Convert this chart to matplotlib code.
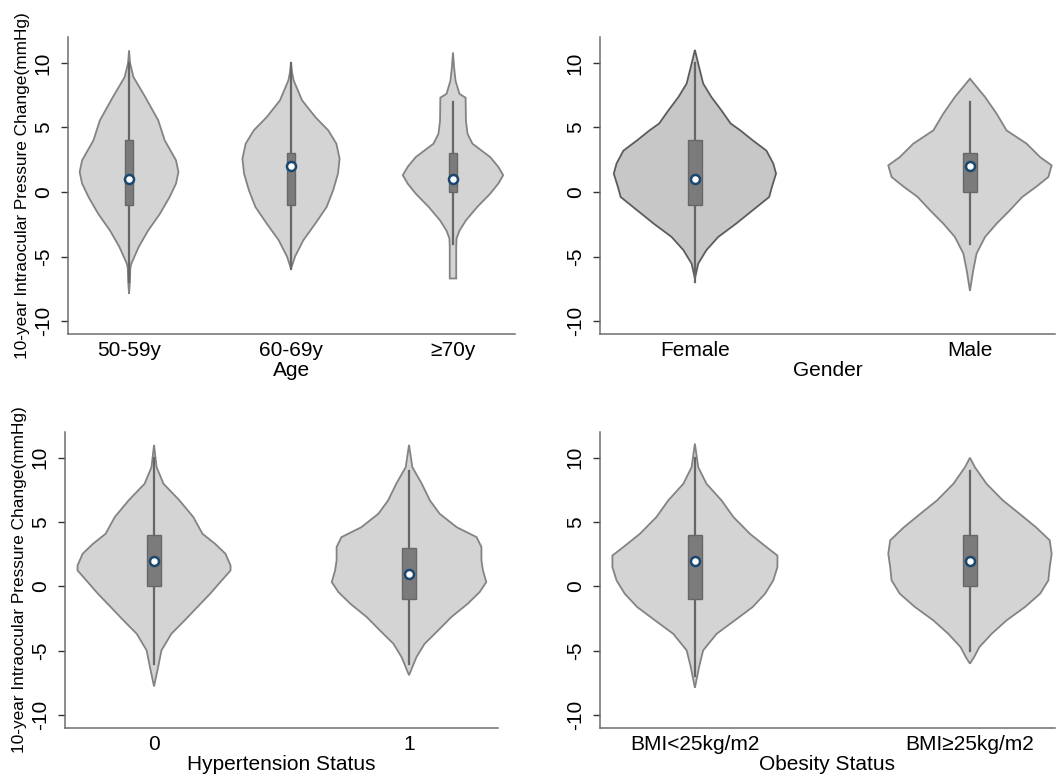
import matplotlib.pyplot as plt
from matplotlib.patches import Rectangle

plt.rcParams['font.family'] = ['Liberation Sans', 'DejaVu Sans']

# Profils des violons : niveaux y et demi-largeurs (unités de catégorie)
age_5059_y = [10.97, 10.0, 8.9, 7.35, 5.55, 4.0, 2.45, 1.55, 0.65, -0.4, -1.7, -3.0, -4.25, -5.55, -5.9, -7.0, -7.9]
age_5059_w = [0.0, 0.006, 0.027, 0.10, 0.18, 0.22, 0.29, 0.305, 0.29, 0.25, 0.19, 0.117, 0.06, 0.014, 0.008, 0.005, 0.0]
age_6069_y = [9.94, 9.3, 8.65, 7.1, 5.8, 4.77, 3.74, 2.58, 1.42, 0.13, -1.16, -2.45, -3.74, -5.0, -5.94]
age_6069_w = [0.0, 0.006, 0.016, 0.068, 0.15, 0.23, 0.28, 0.30, 0.29, 0.26, 0.22, 0.15, 0.076, 0.025, 0.0]
age_70_y = [10.8, 9.5, 8.6, 7.6, 7.3, 5.5, 4.5, 3.74, 2.7, 1.94, 1.3, 0.65, -0.13, -1.16, -2.2, -3.0, -3.6, -4.2, -6.4, -6.7]
age_70_w = [0.0, 0.008, 0.016, 0.04, 0.078, 0.08, 0.09, 0.12, 0.23, 0.28, 0.31, 0.28, 0.23, 0.15, 0.08, 0.04, 0.022, 0.02, 0.02, 0.02]

female_y = [11.0, 9.94, 8.4, 7.35, 6.3, 5.3, 4.77, 4.0, 3.2, 2.2, 1.42, 0.39, -0.39, -1.42, -2.45, -3.48, -4.5, -5.55, -6.7]
female_w = [0.0, 0.012, 0.03, 0.06, 0.097, 0.13, 0.165, 0.21, 0.26, 0.285, 0.295, 0.28, 0.27, 0.21, 0.15, 0.085, 0.042, 0.012, 0.0]
male_y = [8.77, 7.35, 6.06, 4.77, 3.74, 2.7, 2.06, 1.16, 0.39, -0.39, -1.42, -2.45, -3.48, -4.77, -6.06, -7.66]
male_w = [0.0, 0.055, 0.097, 0.133, 0.206, 0.255, 0.297, 0.285, 0.24, 0.19, 0.145, 0.097, 0.055, 0.024, 0.012, 0.0]

ht0_y = [11.0, 9.27, 7.98, 6.68, 5.39, 4.09, 3.3, 2.54, 1.63, 1.24, 0.34, -0.57, -1.6, -2.64, -3.68, -4.97, -6.27, -7.77]
ht0_w = [0.0, 0.01, 0.037, 0.10, 0.154, 0.19, 0.24, 0.28, 0.30, 0.30, 0.26, 0.22, 0.17, 0.12, 0.068, 0.029, 0.016, 0.0]
ht1_y = [11.0, 9.27, 7.98, 6.68, 5.65, 4.6, 3.83, 3.06, 2.02, 1.24, 0.34, -0.44, -1.35, -2.38, -3.42, -4.46, -5.5, -6.9]
ht1_w = [0.0, 0.013, 0.05, 0.082, 0.12, 0.187, 0.265, 0.284, 0.284, 0.29, 0.303, 0.277, 0.23, 0.166, 0.114, 0.061, 0.029, 0.0]

bmi_lo_y = [11.1, 9.27, 7.98, 6.68, 5.39, 4.09, 3.06, 2.4, 1.5, 0.47, -0.57, -1.6, -2.64, -3.68, -4.97, -6.27, -7.88]
bmi_lo_w = [0.0, 0.012, 0.042, 0.097, 0.14, 0.2, 0.26, 0.30, 0.30, 0.285, 0.255, 0.21, 0.145, 0.079, 0.03, 0.015, 0.0]
bmi_hi_y = [10.0, 9.27, 7.98, 6.68, 5.65, 4.6, 3.58, 2.54, 1.5, 0.47, -0.57, -1.6, -2.64, -3.68, -4.72, -5.5, -6.0]
bmi_hi_w = [0.0, 0.018, 0.06, 0.12, 0.18, 0.24, 0.29, 0.297, 0.29, 0.285, 0.255, 0.2, 0.133, 0.079, 0.034, 0.015, 0.0]

# Statistiques des boîtes (q1, q3, médiane, moustaches)
age_labels = ['50-59y', '60-69y', '≥70y']
age_q1 = [-1, -1, 0]
age_q3 = [4, 3, 3]
age_med = [1, 2, 1]
age_wlo = [-7, -6, -4]
age_whi = [10, 10, 7]

gender_labels = ['Female', 'Male']
gender_q1 = [-1, 0]
gender_q3 = [4, 3]
gender_med = [1, 2]
gender_wlo = [-7, -4]
gender_whi = [10, 7]

ht_labels = ['0', '1']
ht_q1 = [0, -1]
ht_q3 = [4, 3]
ht_med = [2, 1]
ht_wlo = [-6, -6]
ht_whi = [10, 9]

bmi_labels = ['BMI<25kg/m2', 'BMI≥25kg/m2']
bmi_q1 = [-1, 0]
bmi_q3 = [4, 4]
bmi_med = [2, 2]
bmi_wlo = [-7, -5]
bmi_whi = [10, 9]

ylab = '10-year Intraocular Pressure Change(mmHg)'

LIGHT = ('#d4d4d4', '#838383')
DARK = ('#c7c7c7', '#5c5c5c')


def panel(ax, profiles, labels, q1, q3, med, wlo, whi, xlabel, xlim, styles, with_ylabel):
    for i, (py, pw) in enumerate(profiles):
        pos = i + 1
        fc, ec = styles[i]
        xs = [pos + w for w in pw] + [pos - w for w in pw[::-1]]
        ys = list(py) + list(py[::-1])
        ax.fill(xs, ys, facecolor=fc, edgecolor=ec, linewidth=1.3, zorder=1)
        ax.plot([pos, pos], [wlo[i], whi[i]], color='#666666', lw=1.6, zorder=2)
        ax.add_patch(Rectangle((pos - 0.026, q1[i]), 0.052, q3[i] - q1[i],
                               facecolor='#7b7b7b', edgecolor='#676767', lw=1.0, zorder=3))
        ax.plot(pos, med[i], 'o', ms=6.5, mfc='white', mec='#1a476f', mew=1.8, zorder=4)

    ax.set_xlim(*xlim)
    ax.set_ylim(-11, 12)
    ax.set_xticks(range(1, len(labels) + 1))
    ax.set_xticklabels(labels, fontsize=15)
    ax.set_yticks([-10, -5, 0, 5, 10])
    ax.set_yticklabels(['-10', '-5', '0', '5', '10'], fontsize=15, rotation=90, va='center')
    ax.tick_params(axis='x', length=0, pad=5)
    ax.tick_params(axis='y', length=5, width=1, color='#333333', pad=6)
    ax.set_xlabel(xlabel, fontsize=15, labelpad=0.5)
    if with_ylabel:
        ax.set_ylabel(ylab, fontsize=12.4, labelpad=3)
    for s in ['top', 'right']:
        ax.spines[s].set_visible(False)
    for s in ['left', 'bottom']:
        ax.spines[s].set_color('#6e6e6e')
        ax.spines[s].set_linewidth(1.1)


fig = plt.figure(figsize=(10.56, 7.76), dpi=100)
ax1 = fig.add_axes([0.0644, 0.5696, 0.4233, 0.3827])
ax2 = fig.add_axes([0.5682, 0.5696, 0.4308, 0.3827])
ax3 = fig.add_axes([0.0616, 0.0619, 0.4100, 0.3814])
ax4 = fig.add_axes([0.5682, 0.0619, 0.4308, 0.3814])

panel(ax1, [(age_5059_y, age_5059_w), (age_6069_y, age_6069_w), (age_70_y, age_70_w)],
      age_labels, age_q1, age_q3, age_med, age_wlo, age_whi, 'Age', (0.623, 3.383),
      [LIGHT, LIGHT, LIGHT], True)
panel(ax2, [(female_y, female_w), (male_y, male_w)],
      gender_labels, gender_q1, gender_q3, gender_med, gender_wlo, gender_whi, 'Gender',
      (0.655, 2.309), [DARK, LIGHT], False)
panel(ax3, [(ht0_y, ht0_w), (ht1_y, ht1_w)],
      ht_labels, ht_q1, ht_q3, ht_med, ht_wlo, ht_whi, 'Hypertension Status',
      (0.651, 2.349), [LIGHT, LIGHT], True)
panel(ax4, [(bmi_lo_y, bmi_lo_w), (bmi_hi_y, bmi_hi_w)],
      bmi_labels, bmi_q1, bmi_q3, bmi_med, bmi_wlo, bmi_whi, 'Obesity Status',
      (0.655, 2.309), [LIGHT, LIGHT], False)

fig.savefig('out.png', dpi=100)
